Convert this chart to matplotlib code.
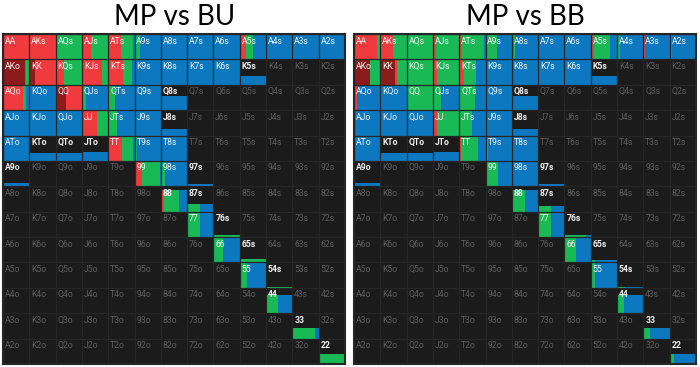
import matplotlib
matplotlib.use("Agg")
import matplotlib.pyplot as plt

RANKS = ["A", "K", "Q", "J", "T", "9", "8", "7", "6", "5", "4", "3", "2"]
ACTIONS = ["allin", "raise", "call", "fold"]
COLORS = {"allin": "#8c1c1c", "raise": "#f03a3d", "call": "#19b956", "fold": "#0b78bf"}

# hand -> (share of the hand in range, [allin, raise, call, fold])
bu_range = {
    "AA": (1.0, [0, 1.0, 0, 0]), "AKs": (1.0, [0, 1.0, 0, 0]),
    "AQs": (1.0, [0, 0, 1.0, 0]), "AJs": (1.0, [0, 0.33, 0.67, 0]),
    "ATs": (1.0, [0, 0.5, 0.45, 0.05]), "A9s": (1.0, [0, 0, 0.2, 0.8]),
    "A8s": (1.0, [0, 0, 0, 1.0]), "A7s": (1.0, [0, 0, 0, 1.0]),
    "A6s": (1.0, [0, 0, 0, 1.0]), "A5s": (1.0, [0, 0.22, 0.3, 0.48]),
    "A4s": (1.0, [0, 0, 0.03, 0.97]), "A3s": (1.0, [0, 0, 0, 1.0]),
    "A2s": (1.0, [0, 0, 0, 1.0]),
    "AKo": (1.0, [0.82, 0.06, 0.12, 0]), "KK": (1.0, [0.2, 0.8, 0, 0]),
    "KQs": (1.0, [0, 0.3, 0.7, 0]), "KJs": (1.0, [0, 0.75, 0.25, 0]),
    "KTs": (1.0, [0, 0.55, 0.35, 0.1]), "K9s": (1.0, [0, 0, 0, 1.0]),
    "K8s": (1.0, [0, 0, 0, 1.0]), "K7s": (1.0, [0, 0, 0, 1.0]),
    "K6s": (1.0, [0, 0, 0, 1.0]), "K5s": (0.33, [0, 0, 0, 1.0]),
    "AQo": (1.0, [0, 0.77, 0.1, 0.13]), "KQo": (1.0, [0, 0, 0, 1.0]),
    "QQ": (1.0, [0.4, 0.6, 0, 0]), "QJs": (1.0, [0, 0, 0.17, 0.83]),
    "QTs": (1.0, [0, 0, 0.25, 0.75]), "Q9s": (1.0, [0, 0, 0, 1.0]),
    "Q8s": (0.55, [0, 0, 0, 1.0]),
    "AJo": (1.0, [0, 0, 0, 1.0]), "KJo": (1.0, [0, 0, 0, 1.0]),
    "QJo": (1.0, [0, 0, 0, 1.0]), "JJ": (1.0, [0, 0.57, 0.43, 0]),
    "JTs": (1.0, [0, 0, 0.35, 0.65]), "J9s": (1.0, [0, 0, 0, 1.0]),
    "J8s": (0.25, [0, 0, 0, 1.0]),
    "ATo": (1.0, [0, 0, 0, 1.0]), "KTo": (0.31, [0, 0, 0, 1.0]),
    "QTo": (0.3, [0, 0, 0, 1.0]), "JTo": (0.35, [0, 0, 0, 1.0]),
    "TT": (1.0, [0, 0.52, 0.43, 0.05]), "T9s": (1.0, [0, 0, 0.1, 0.9]),
    "T8s": (1.0, [0, 0, 0, 1.0]),
    "A9o": (0.13, [0, 0, 0, 1.0]), "99": (0.95, [0, 0.3, 0.65, 0.05]),
    "98s": (1.0, [0, 0, 0.15, 0.85]), "97s": (0.1, [0, 0, 0, 1.0]),
    "88": (0.85, [0, 0.12, 0.58, 0.3]), "87s": (0.3, [0, 0, 0.5, 0.5]),
    "77": (1.0, [0, 0.03, 0.47, 0.5]), "76s": (0.1, [0, 0, 1.0, 0]),
    "66": (1.0, [0, 0, 0.36, 0.64]), "65s": (0.12, [0, 0, 1.0, 0]),
    "55": (1.0, [0, 0, 0.28, 0.72]), "54s": (0.03, [0, 0, 1.0, 0]),
    "44": (0.73, [0, 0, 0.45, 0.55]), "33": (0.43, [0, 0, 0.85, 0.15]),
    "22": (0.4, [0, 0, 1.0, 0]),
}

bb_range = {
    "AA": (1.0, [0, 0.88, 0.12, 0]), "AKs": (1.0, [0, 0.5, 0.5, 0]),
    "AQs": (1.0, [0, 0, 1.0, 0]), "AJs": (1.0, [0, 0.13, 0.87, 0]),
    "ATs": (1.0, [0, 0.12, 0.83, 0.05]), "A9s": (1.0, [0, 0, 0.45, 0.55]),
    "A8s": (1.0, [0, 0.08, 0.05, 0.87]), "A7s": (1.0, [0, 0.04, 0, 0.96]),
    "A6s": (1.0, [0, 0, 0, 1.0]), "A5s": (1.0, [0, 0.12, 0.6, 0.28]),
    "A4s": (1.0, [0, 0, 0.12, 0.88]), "A3s": (1.0, [0, 0.06, 0, 0.94]),
    "A2s": (1.0, [0, 0.1, 0, 0.9]),
    "AKo": (1.0, [0.62, 0, 0.38, 0]), "KK": (1.0, [0.55, 0.1, 0.35, 0]),
    "KQs": (1.0, [0, 0, 1.0, 0]), "KJs": (1.0, [0, 0.15, 0.85, 0]),
    "KTs": (1.0, [0, 0.2, 0.45, 0.35]), "K9s": (1.0, [0, 0, 0, 1.0]),
    "K8s": (1.0, [0, 0, 0, 1.0]), "K7s": (1.0, [0, 0, 0, 1.0]),
    "K6s": (1.0, [0, 0, 0, 1.0]), "K5s": (0.33, [0, 0, 0, 1.0]),
    "AQo": (1.0, [0, 0.12, 0, 0.88]), "KQo": (1.0, [0, 0, 0, 1.0]),
    "QQ": (1.0, [0, 0, 1.0, 0]), "QJs": (1.0, [0, 0, 0.3, 0.7]),
    "QTs": (1.0, [0, 0, 0.6, 0.4]), "Q9s": (1.0, [0, 0, 0, 1.0]),
    "Q8s": (0.55, [0, 0, 0, 1.0]),
    "AJo": (1.0, [0, 0, 0, 1.0]), "KJo": (1.0, [0, 0, 0, 1.0]),
    "QJo": (1.0, [0, 0, 0, 1.0]), "JJ": (1.0, [0, 0.15, 0.85, 0]),
    "JTs": (1.0, [0, 0, 0.5, 0.5]), "J9s": (1.0, [0, 0, 0, 1.0]),
    "J8s": (0.25, [0, 0, 0, 1.0]),
    "ATo": (1.0, [0, 0, 0, 1.0]), "KTo": (0.31, [0, 0, 0, 1.0]),
    "QTo": (0.3, [0, 0, 0, 1.0]), "JTo": (0.35, [0, 0, 0, 1.0]),
    "TT": (1.0, [0, 0.05, 0.65, 0.3]), "T9s": (1.0, [0, 0, 0.1, 0.9]),
    "T8s": (1.0, [0, 0, 0, 1.0]),
    "A9o": (0.13, [0, 0, 0, 1.0]), "99": (1.0, [0, 0.05, 0.42, 0.53]),
    "98s": (1.0, [0, 0, 0, 1.0]), "97s": (0.1, [0, 0, 0, 1.0]),
    "88": (0.85, [0, 0, 0.5, 0.5]), "87s": (0.22, [0, 0, 0.5, 0.5]),
    "77": (1.0, [0, 0, 0.47, 0.53]), "76s": (0.08, [0, 0, 0.8, 0.2]),
    "66": (1.0, [0, 0, 0.45, 0.55]), "65s": (0.1, [0, 0, 0.15, 0.85]),
    "55": (1.0, [0, 0, 0.15, 0.85]), "54s": (0.03, [0, 0, 0.3, 0.7]),
    "44": (0.72, [0, 0, 0.25, 0.75]), "33": (0.42, [0, 0, 0.27, 0.73]),
    "22": (0.38, [0, 0, 0.15, 0.85]),
}


def hand_name(i, j):
    if i == j:
        return RANKS[i] + RANKS[j]
    if i < j:
        return RANKS[i] + RANKS[j] + "s"
    return RANKS[j] + RANKS[i] + "o"


def draw_grid(ax, rng):
    ax.set_facecolor("#1b1b1b")
    for i in range(13):
        for j in range(13):
            name = hand_name(i, j)
            freq, mix = rng.get(name, (0, [0, 0, 0, 0]))
            left = j
            if freq > 0:
                for act, w in zip(ACTIONS, mix):
                    if w <= 0:
                        continue
                    ax.bar(left, freq, width=w, bottom=i + 1 - freq, align="edge",
                           color=COLORS[act], linewidth=0, zorder=1)
                    left += w
            if name in rng:
                color = "#f2f2f2"
                weight = "bold" if freq < 0.9 else "normal"
            else:
                color = "#5e5e5e"
                weight = "normal"
            ax.text(j + 0.07, i + 0.1, name, ha="left", va="top", fontsize=6.2,
                    color=color, fontweight=weight, family="Roboto", zorder=3)
    for k in range(14):
        ax.axhline(k, color="#262626", lw=0.9, zorder=2)
        ax.axvline(k, color="#262626", lw=0.9, zorder=2)
    ax.set_xlim(0, 13)
    ax.set_ylim(13, 0)
    ax.set_xticks([])
    ax.set_yticks([])
    for s in ax.spines.values():
        s.set_color("#262626")
        s.set_linewidth(1.5)


W, H = 700, 367
fig = plt.figure(figsize=(W / 100, H / 100), dpi=100)
fig.patch.set_facecolor("white")

ax1 = fig.add_axes([3 / W, 3 / H, 342 / W, 330 / H])
ax2 = fig.add_axes([354 / W, 3 / H, 342 / W, 330 / H])
draw_grid(ax1, bu_range)
draw_grid(ax2, bb_range)

fig.text(175 / W, 1 - 17 / H, "MP vs BU", ha="center", va="center", fontsize=20,
         family="Lato", color="black")
fig.text(525 / W, 1 - 17 / H, "MP vs BB", ha="center", va="center", fontsize=20,
         family="Lato", color="black")

fig.savefig("out.png", dpi=100)
